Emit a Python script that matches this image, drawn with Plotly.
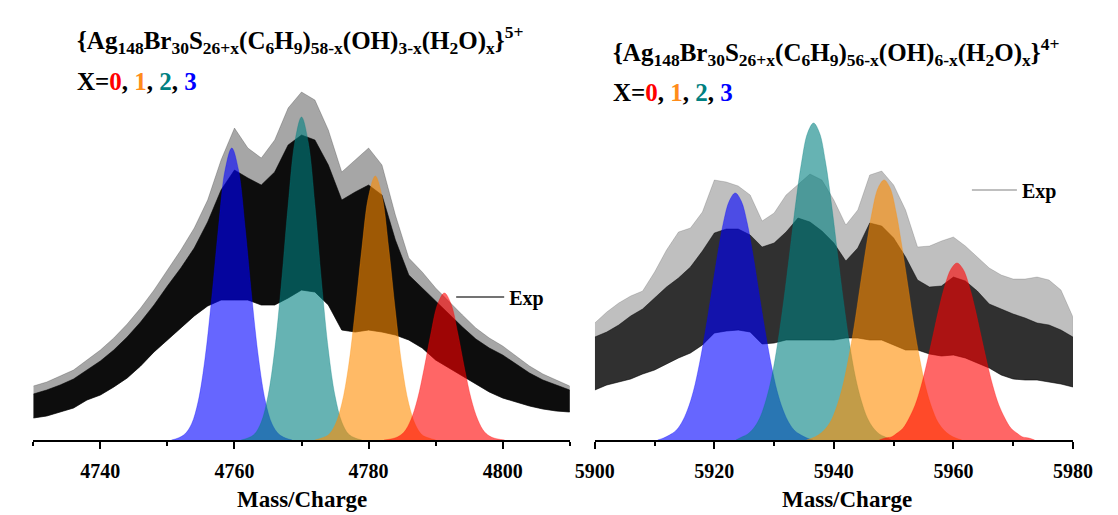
import plotly.graph_objects as go

# ---------------- data: left panel (5+) ----------------
exp5_mz = [4730, 4732, 4734, 4736, 4738, 4740, 4742, 4744, 4746, 4748,
           4750, 4752, 4754, 4756, 4758, 4760, 4762, 4764, 4766, 4768,
           4770, 4772, 4774, 4776, 4778, 4780, 4782, 4784, 4786, 4788,
           4790, 4792, 4794, 4796, 4798, 4800, 4802, 4804, 4806, 4808, 4810]
exp5_spike = [54, 58, 64, 70, 80, 90, 102, 116, 132, 150,
              170, 190, 212, 240, 280, 312, 292, 282, 300, 332,
              348, 340, 310, 268, 280, 292, 275, 225, 182, 168,
              152, 138, 125, 112, 102, 94, 84, 74, 66, 60, 54]
exp5_core = [46, 50, 55, 61, 70, 79, 90, 103, 118, 135,
             154, 172, 192, 218, 250, 270, 262, 255, 268, 295,
             305, 300, 275, 240, 248, 255, 245, 200, 165, 152,
             138, 125, 113, 101, 92, 85, 76, 67, 60, 55, 50]
exp5_low = [22, 24, 28, 32, 40, 45, 53, 62, 74, 88,
            100, 112, 124, 134, 140, 140, 140, 135, 135, 142,
            150, 148, 135, 110, 108, 110, 108, 105, 100, 92,
            80, 72, 64, 56, 48, 42, 38, 34, 31, 29, 28]

sim5_x3_mz = [4750.6, 4751.6, 4752.6, 4753.6, 4754.6, 4755.6, 4756.6, 4757.6, 4758.6, 4759.6,
              4760.6, 4761.6, 4762.6, 4763.6, 4764.6, 4765.6, 4766.6, 4767.6, 4768.6]
sim5_x3_int = [0, 2, 6, 16, 39, 81, 142, 212, 270, 292, 270, 212, 142, 81, 39, 16, 6, 2, 0]
sim5_x2_mz = [4761.0, 4762.0, 4763.0, 4764.0, 4765.0, 4766.0, 4767.0, 4768.0, 4769.0, 4770.0,
              4771.0, 4772.0, 4773.0, 4774.0, 4775.0, 4776.0, 4777.0, 4778.0, 4779.0]
sim5_x2_int = [0, 2, 6, 18, 44, 90, 157, 235, 298, 323, 298, 235, 157, 90, 44, 18, 6, 2, 0]
sim5_x1_mz = [4772.0, 4773.0, 4774.0, 4775.0, 4776.0, 4777.0, 4778.0, 4779.0, 4780.0, 4781.0,
              4782.0, 4783.0, 4784.0, 4785.0, 4786.0, 4787.0, 4788.0, 4789.0, 4790.0]
sim5_x1_int = [0, 2, 5, 15, 36, 73, 129, 192, 244, 264, 244, 192, 129, 73, 36, 15, 5, 2, 0]
sim5_x0_mz = [4782.3, 4783.3, 4784.3, 4785.3, 4786.3, 4787.3, 4788.3, 4789.3, 4790.3, 4791.3,
              4792.3, 4793.3, 4794.3, 4795.3, 4796.3, 4797.3, 4798.3, 4799.3, 4800.3]
sim5_x0_int = [0, 1, 3, 8, 20, 41, 72, 107, 136, 147, 136, 107, 72, 41, 20, 8, 3, 1, 0]

# ---------------- data: right panel (4+) ----------------
exp4_mz = [5900, 5902, 5904, 5906, 5908, 5910, 5912, 5914, 5916, 5918,
           5920, 5922, 5924, 5926, 5928, 5930, 5932, 5934, 5936, 5938,
           5940, 5942, 5944, 5946, 5948, 5950, 5952, 5954, 5956, 5958,
           5960, 5962, 5964, 5966, 5968, 5970, 5972, 5974, 5976, 5978, 5980]
exp4_spike = [117, 128, 137, 144, 149, 168, 190, 208, 212, 228,
              260, 258, 254, 245, 219, 227, 245, 256, 266, 260,
              240, 215, 230, 265, 269, 255, 230, 193, 194, 199,
              203, 194, 183, 172, 165, 161, 161, 163, 160, 150, 123]
exp4_core = [103, 108, 115, 124, 131, 142, 153, 162, 173, 189,
             207, 211, 211, 205, 193, 197, 208, 222, 218, 209,
             197, 179, 192, 217, 214, 202, 183, 160, 153, 154,
             163, 159, 149, 136, 131, 126, 122, 117, 115, 110, 103]
exp4_low = [50, 55, 58, 61, 66, 70, 76, 82, 87, 95,
            107, 109, 110, 108, 96, 97, 100, 100, 100, 100,
            100, 102, 102, 100, 100, 95, 90, 90, 86, 84,
            85, 82, 77, 72, 65, 61, 60, 60, 58, 56, 53]

sim4_x3_mz = [5910.5, 5911.5, 5912.5, 5913.5, 5914.5, 5915.5, 5916.5, 5917.5, 5918.5,
              5919.5, 5920.5, 5921.5, 5922.5, 5923.5, 5924.5, 5925.5, 5926.5, 5927.5,
              5928.5, 5929.5, 5930.5, 5931.5, 5932.5, 5933.5, 5934.5, 5935.5, 5936.5]
sim4_x3_int = [0, 2, 5, 9, 17, 30, 49, 76, 109, 146, 184, 217, 239, 247,
               239, 217, 184, 146, 109, 76, 49, 30, 17, 9, 5, 2, 0]
sim4_x2_mz = [5923.6, 5924.6, 5925.6, 5926.6, 5927.6, 5928.6, 5929.6, 5930.6, 5931.6,
              5932.6, 5933.6, 5934.6, 5935.6, 5936.6, 5937.6, 5938.6, 5939.6, 5940.6,
              5941.6, 5942.6, 5943.6, 5944.6, 5945.6, 5946.6, 5947.6, 5948.6, 5949.6]
sim4_x2_int = [0, 3, 6, 12, 22, 39, 63, 97, 139, 187, 236, 278, 307, 317,
               307, 278, 236, 187, 139, 97, 63, 39, 22, 12, 6, 3, 0]
sim4_x1_mz = [5935.4, 5936.4, 5937.4, 5938.4, 5939.4, 5940.4, 5941.4, 5942.4, 5943.4,
              5944.4, 5945.4, 5946.4, 5947.4, 5948.4, 5949.4, 5950.4, 5951.4, 5952.4,
              5953.4, 5954.4, 5955.4, 5956.4, 5957.4, 5958.4, 5959.4, 5960.4, 5961.4]
sim4_x1_int = [0, 2, 5, 10, 18, 32, 52, 80, 114, 154, 193, 228, 252, 260,
               252, 228, 193, 154, 114, 80, 52, 32, 18, 10, 5, 2, 0]
sim4_x0_mz = [5947.6, 5948.6, 5949.6, 5950.6, 5951.6, 5952.6, 5953.6, 5954.6, 5955.6,
              5956.6, 5957.6, 5958.6, 5959.6, 5960.6, 5961.6, 5962.6, 5963.6, 5964.6,
              5965.6, 5966.6, 5967.6, 5968.6, 5969.6, 5970.6, 5971.6, 5972.6, 5973.6]
sim4_x0_int = [0, 2, 3, 7, 12, 22, 35, 54, 78, 105, 132, 155, 171, 177,
               171, 155, 132, 105, 78, 54, 35, 22, 12, 7, 3, 2, 0]

left_ticks = [4740, 4760, 4780, 4800]
right_ticks = [5900, 5920, 5940, 5960, 5980]
axis_title = "Mass/Charge"
title5 = ("{Ag<sub>148</sub>Br<sub>30</sub>S<sub>26+x</sub>(C<sub>6</sub>H<sub>9</sub>)"
          "<sub>58-x</sub>(OH)<sub>3-x</sub>(H<sub>2</sub>O)<sub>x</sub>}<sup>5+</sup>")
title4 = ("{Ag<sub>148</sub>Br<sub>30</sub>S<sub>26+x</sub>(C<sub>6</sub>H<sub>9</sub>)"
          "<sub>56-x</sub>(OH)<sub>6-x</sub>(H<sub>2</sub>O)<sub>x</sub>}<sup>4+</sup>")

# ---------------- styling ----------------
# the page body keeps its default 8px margin, so the figure is drawn 8px smaller
W, H = 1110, 507
OFF = 8
FONT = "Liberation Serif"
COL = {"x0": "rgba(255,0,0,0.60)", "x1": "rgba(255,140,0,0.60)",
       "x2": "rgba(0,128,128,0.60)", "x3": "rgba(0,0,255,0.60)"}


def px(xp):  # page pixel -> paper fraction (x)
    return (xp - OFF) / W


def py(yp):  # page pixel -> paper fraction (y)
    return 1 - (yp - OFF) / H


fig = go.Figure()


def band(mz, upper, lower, color, xa, ya):
    fig.add_trace(go.Scatter(
        x=list(mz) + list(mz)[::-1], y=list(upper) + list(lower)[::-1],
        fill="toself", fillcolor=color, mode="lines",
        line=dict(width=0.6, color=color), hoverinfo="skip",
        showlegend=False, xaxis=xa, yaxis=ya))


def sim(mz, inten, color, xa, ya):
    fig.add_trace(go.Scatter(
        x=mz, y=inten, fill="tozeroy", fillcolor=color, mode="lines",
        line=dict(width=0.5, color=color, shape="spline"),
        showlegend=False, xaxis=xa, yaxis=ya))


band(exp5_mz, exp5_spike, exp5_low, "rgba(0,0,0,0.35)", "x", "y")
band(exp5_mz, exp5_core, exp5_low, "rgba(0,0,0,0.92)", "x", "y")
sim(sim5_x3_mz, sim5_x3_int, COL["x3"], "x", "y")
sim(sim5_x2_mz, sim5_x2_int, COL["x2"], "x", "y")
sim(sim5_x1_mz, sim5_x1_int, COL["x1"], "x", "y")
sim(sim5_x0_mz, sim5_x0_int, COL["x0"], "x", "y")

band(exp4_mz, exp4_spike, exp4_low, "rgba(0,0,0,0.25)", "x2", "y2")
band(exp4_mz, exp4_core, exp4_low, "rgba(0,0,0,0.75)", "x2", "y2")
sim(sim4_x3_mz, sim4_x3_int, COL["x3"], "x2", "y2")
sim(sim4_x2_mz, sim4_x2_int, COL["x2"], "x2", "y2")
sim(sim4_x1_mz, sim4_x1_int, COL["x1"], "x2", "y2")
sim(sim4_x0_mz, sim4_x0_int, COL["x0"], "x2", "y2")

# legend entries
fig.add_trace(go.Scatter(x=[None], y=[None], mode="lines", name="<b>Exp</b>",
                         line=dict(color="#444444", width=1.5), legend="legend",
                         xaxis="x", yaxis="y"))
fig.add_trace(go.Scatter(x=[None], y=[None], mode="lines", name="<b>Exp</b>",
                         line=dict(color="#aaaaaa", width=1.5), legend="legend2",
                         xaxis="x2", yaxis="y2"))

ydom = [py(440), py(40)]
common_x = dict(showline=True, linecolor="black", linewidth=2, ticks="outside",
                ticklen=7, tickwidth=2, tickcolor="black", showgrid=False,
                zeroline=False, ticklabelstandoff=5,
                tickfont=dict(family=FONT, size=20, color="black", weight="bold"),
                minor=dict(ticks="outside", ticklen=4, tickwidth=2, tickcolor="black",
                           dtick=10, showgrid=False))
common_y = dict(visible=False, range=[0, 400], domain=ydom, fixedrange=True)

fig.update_layout(
    width=W, height=H, margin=dict(l=0, r=0, t=0, b=0),
    paper_bgcolor="white", plot_bgcolor="rgba(0,0,0,0)",
    xaxis=dict(domain=[px(13.5), px(570)], range=[4730, 4810], anchor="y",
               tickvals=left_ticks, **common_x),
    yaxis=dict(anchor="x", **common_y),
    xaxis2=dict(domain=[px(596), px(1092)], range=[5900, 5980], anchor="y2",
                tickvals=right_ticks, **common_x),
    yaxis2=dict(anchor="x2", **common_y),
    legend=dict(x=px(447), y=py(297), xanchor="left", yanchor="middle",
                bgcolor="rgba(0,0,0,0)", itemwidth=48,
                font=dict(family=FONT, size=20, color="black")),
    legend2=dict(x=px(982), y=py(190), xanchor="left", yanchor="middle",
                 bgcolor="rgba(0,0,0,0)", itemwidth=45,
                 font=dict(family=FONT, size=20, color="black")),
)

xline = ("<b>X=<span style='color:#ff0000'>0</span>, <span style='color:#ff8c1a'>1</span>, "
         "<span style='color:#008080'>2</span>, <span style='color:#0000ff'>3</span></b>")
ann = [
    dict(text="<b>" + title5 + "</b>", x=px(57), y=py(40)),
    dict(text=xline, x=px(57), y=py(81)),
    dict(text="<b>" + title4 + "</b>", x=px(613), y=py(52)),
    dict(text=xline, x=px(613), y=py(93)),
]
for a in ann:
    fig.add_annotation(xref="paper", yref="paper", xanchor="left", yanchor="middle",
                       showarrow=False, font=dict(family=FONT, size=25, color="black"), **a)
for cx, cy in [(292, 499), (858, 499)]:
    fig.add_annotation(xref="paper", yref="paper", x=px(cx), y=py(cy),
                       xanchor="center", yanchor="middle", showarrow=False,
                       text="<b>" + axis_title + "</b>",
                       font=dict(family=FONT, size=23, color="black"))

fig.write_html("out.html")
